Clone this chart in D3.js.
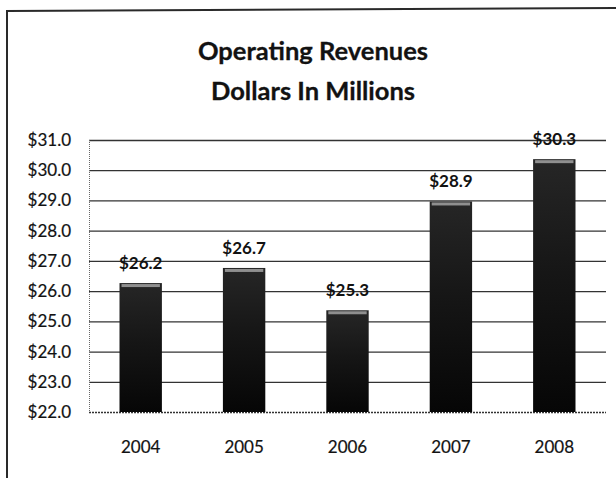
<!DOCTYPE html>
<html>
<head>
<meta charset="utf-8">
<script src="https://cdn.jsdelivr.net/npm/d3@7"></script>
<style>
  html, body { margin: 0; padding: 0; background: #fff; }
  svg { display: block; }
  text { font-family: Lato, "Open Sans", sans-serif; fill: #121212; }
</style>
</head>
<body>
<div id="chart"></div>
<script>
// Operating revenues by fiscal year, in millions of dollars
const years = ["2004", "2005", "2006", "2007", "2008"];
const revenues = [26.2, 26.7, 25.3, 28.9, 30.3];
const yTicks = [22, 23, 24, 25, 26, 27, 28, 29, 30, 31];
const titleLines = ["Operating Revenues", "Dollars In Millions"];

const W = 616, H = 478;
const plot = { left: 89, right: 606, top: 140, bottom: 412 };

const svg = d3.select("#chart").append("svg")
  .attr("width", W).attr("height", H);

// Bar shading
const defs = svg.append("defs");
const grad = defs.append("linearGradient")
  .attr("id", "barFill").attr("x1", 0).attr("y1", 0).attr("x2", 0).attr("y2", 1);
grad.append("stop").attr("offset", "0%").attr("stop-color", "#262626");
grad.append("stop").attr("offset", "45%").attr("stop-color", "#161616");
grad.append("stop").attr("offset", "100%").attr("stop-color", "#060606");

// Outer frame (left and top edges)
svg.append("path")
  .attr("d", "M7,478 L7,11 L616,8")
  .attr("fill", "none").attr("stroke", "#2a2a2a").attr("stroke-width", 2);

// Title
svg.append("g").selectAll("text")
  .data(titleLines)
  .join("text")
  .attr("x", 313)
  .attr("y", (d, i) => 60 + i * 40)
  .attr("text-anchor", "middle")
  .attr("font-size", 25.5)
  .attr("font-weight", 700)
  .attr("stroke", "#121212")
  .attr("stroke-width", 0.3)
  .text(d => d);

const x = d3.scaleBand()
  .domain(years)
  .range([plot.left, plot.right])
  .paddingInner(0.59)
  .paddingOuter(0.295);

const y = d3.scaleLinear()
  .domain([22, 31])
  .range([plot.bottom, plot.top]);

// Horizontal gridlines
svg.append("g")
  .selectAll("line")
  .data(yTicks)
  .join("line")
  .attr("x1", plot.left).attr("x2", plot.right)
  .attr("y1", d => y(d) + 0.5).attr("y2", d => y(d) + 0.5)
  .attr("stroke", "#333")
  .attr("stroke-width", 1.3)
  .attr("stroke-dasharray", d => d === 22 ? "2,1" : null);

// Left edge of plot area
svg.append("line")
  .attr("x1", plot.left + 0.5).attr("x2", plot.left + 0.5)
  .attr("y1", plot.top).attr("y2", plot.bottom)
  .attr("stroke", "#666").attr("stroke-width", 1)
  .attr("stroke-dasharray", "1,1");

// Y axis labels
const yAxis = d3.axisLeft(y)
  .tickValues(yTicks)
  .tickSize(0)
  .tickPadding(0)
  .tickFormat(d => "$" + d3.format(".1f")(d));
const yg = svg.append("g")
  .attr("transform", `translate(71,0)`)
  .call(yAxis);
yg.select(".domain").remove();
yg.selectAll("text")
  .attr("font-size", 17)
  .attr("font-family", "Lato, sans-serif")
  .attr("fill", "#121212")
  .attr("stroke", "#121212")
  .attr("stroke-width", 0.2);

// X axis labels
const xAxis = d3.axisBottom(x).tickSize(0).tickPadding(0);
const xg = svg.append("g")
  .attr("transform", `translate(0,441)`)
  .call(xAxis);
xg.select(".domain").remove();
xg.selectAll("text")
  .attr("font-size", 17)
  .attr("font-family", "Lato, sans-serif")
  .attr("fill", "#121212")
  .attr("stroke", "#121212")
  .attr("stroke-width", 0.2);

const rows = years.map((yr, i) => ({ year: yr, value: revenues[i] }));

// Bars
const bars = svg.append("g");
bars.selectAll("rect.bar")
  .data(rows)
  .join("rect")
  .attr("class", "bar")
  .attr("x", d => x(d.year))
  .attr("width", x.bandwidth())
  .attr("y", d => y(d.value) - 2)
  .attr("height", d => y(22) - y(d.value) + 2)
  .attr("fill", "url(#barFill)");

// Light cap along the top of each bar
bars.selectAll("rect.cap")
  .data(rows)
  .join("rect")
  .attr("class", "cap")
  .attr("x", d => x(d.year) + 2)
  .attr("width", x.bandwidth() - 4)
  .attr("y", d => y(d.value) - 1)
  .attr("height", 3)
  .attr("fill", "#8f8f8f");

// Value labels
svg.append("g")
  .selectAll("text")
  .data(rows)
  .join("text")
  .attr("x", d => x(d.year) + x.bandwidth() / 2)
  .attr("y", d => y(d.value) - 16)
  .attr("text-anchor", "middle")
  .attr("font-size", 17)
  .attr("font-weight", 700)
  .text(d => "$" + d3.format(".1f")(d.value));
</script>
</body>
</html>
